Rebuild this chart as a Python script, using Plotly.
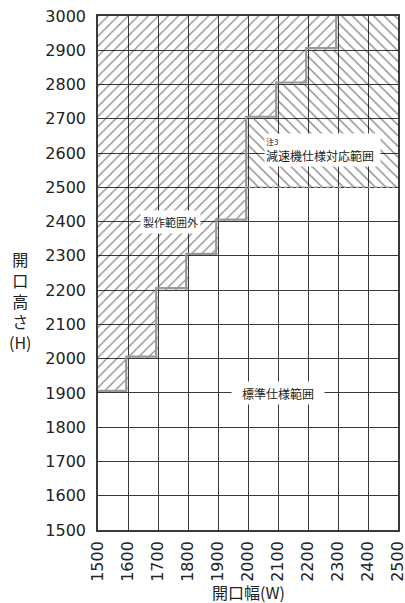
import plotly.graph_objects as go

# 開口幅の区切り(各列の左端)と、その列で製作範囲外になる高さの下端
col_left = [1500, 1600, 1700, 1800, 1900, 2000, 2100, 2200, 2300, 2400]
out_bottom = [1900, 2000, 2200, 2300, 2400, 2700, 2800, 2900, 3000, 3000]

# 減速機仕様対応範囲: W 2000 以上、H 2500 以上
gear_min_w = 2000
gear_min_h = 2500

w_range = [1500, 2500]
h_range = [1500, 3000]
w_ticks = list(range(1500, 2501, 100))
h_ticks = list(range(1500, 3001, 100))
col_w = 100

FONT = "DejaVu Sans"
JP = "Noto Sans CJK JP"
GRID = "#3a3a3a"

centers = [x + col_w / 2 for x in col_left]

fig = go.Figure()

# 製作範囲外 (///)
fig.add_trace(go.Bar(
    x=centers,
    base=out_bottom,
    y=[h_range[1] - b for b in out_bottom],
    width=col_w,
    marker=dict(color="rgba(0,0,0,0)", line_width=0,
                pattern=dict(shape="/", fgcolor="#111", bgcolor="rgba(0,0,0,0)",
                             size=7.1, solidity=0.18)),
    hoverinfo="skip",
))

# 減速機仕様対応範囲 (\\\)
g_x = [c for c, l in zip(centers, col_left) if l >= gear_min_w]
g_top = [b for b, l in zip(out_bottom, col_left) if l >= gear_min_w]
fig.add_trace(go.Bar(
    x=g_x,
    base=[gear_min_h] * len(g_x),
    y=[t - gear_min_h for t in g_top],
    width=col_w,
    marker=dict(color="rgba(0,0,0,0)", line_width=0,
                pattern=dict(shape="\\", fgcolor="#111", bgcolor="rgba(0,0,0,0)",
                             size=7.5, solidity=0.18)),
    hoverinfo="skip",
))

# 階段状の境界線(グレー、少し内側にずらす)
dx, dy = 6, 6
bx, by = [], []
for i, (l, b) in enumerate(zip(col_left, out_bottom)):
    if b >= h_range[1]:
        break
    bx += [l if i == 0 else l - dx, l + col_w - dx]
    by += [b + dy, b + dy]
    nxt = out_bottom[i + 1] if i + 1 < len(out_bottom) else h_range[1]
    bx.append(l + col_w - dx)
    by.append(min(nxt + dy, h_range[1]))
fig.add_trace(go.Scatter(x=bx, y=by, mode="lines",
                         line=dict(color="#999", width=2.2), hoverinfo="skip"))

# 減速機範囲の下端(点線)
fig.add_trace(go.Scatter(x=[gear_min_w, w_range[1]], y=[gear_min_h, gear_min_h],
                         mode="lines", line=dict(color="#999", width=1.5, dash="dot"),
                         hoverinfo="skip"))

fig.add_annotation(x=1740, y=2400, text="製作範囲外", showarrow=False,
                   font=dict(family=JP, size=11, color="#222"),
                   bgcolor="white", width=57, height=20)
fig.add_annotation(x=2248, y=2609,
                   text="<span style='font-size:8px'>注3</span><br>減速機仕様対応範囲",
                   showarrow=False, align="left",
                   font=dict(family=JP, size=12, color="#222"),
                   bgcolor="white", width=113, height=30)
fig.add_annotation(x=2100, y=1900, text="標準仕様範囲", showarrow=False,
                   font=dict(family=JP, size=12, color="#222"),
                   bgcolor="white", width=90, height=20)

# 軸タイトル
fig.add_annotation(xref="paper", yref="paper", x=-0.26, y=0.447,
                   xanchor="center", yanchor="middle",
                   text="開<br>口<br>高<br>さ<br>(H)", showarrow=False,
                   font=dict(family=JP, size=16, color="#222"))
fig.add_annotation(xref="paper", yref="paper", x=0.5, y=-0.1206,
                   xanchor="center", yanchor="middle",
                   text="開口幅(W)", showarrow=False,
                   font=dict(family=JP, size=16, color="#222"))

fig.update_layout(
    width=405,
    height=603,
    margin=dict(l=98, r=7, t=16, b=73),
    paper_bgcolor="white",
    plot_bgcolor="white",
    barmode="overlay",
    bargap=0,
    showlegend=False,
    xaxis=dict(range=w_range, tickvals=w_ticks, tickangle=-90,
               showgrid=True, gridcolor=GRID, gridwidth=1,
               showline=True, linecolor=GRID, linewidth=1.5, mirror=True,
               zeroline=False, ticks="", ticklabelstandoff=3, automargin=False,
               ticklabeloverflow="allow",
               tickfont=dict(family=FONT, size=16, color="#222")),
    yaxis=dict(range=h_range, tickvals=h_ticks,
               showgrid=True, gridcolor=GRID, gridwidth=1,
               showline=True, linecolor=GRID, linewidth=1.5, mirror=True,
               zeroline=False, ticks="", ticklabelstandoff=7, automargin=False,
               ticklabeloverflow="allow",
               tickfont=dict(family=FONT, size=16, color="#222")),
)

fig.write_html("out.html", config={"displayModeBar": False},
               post_script="document.body.style.margin='0';")
